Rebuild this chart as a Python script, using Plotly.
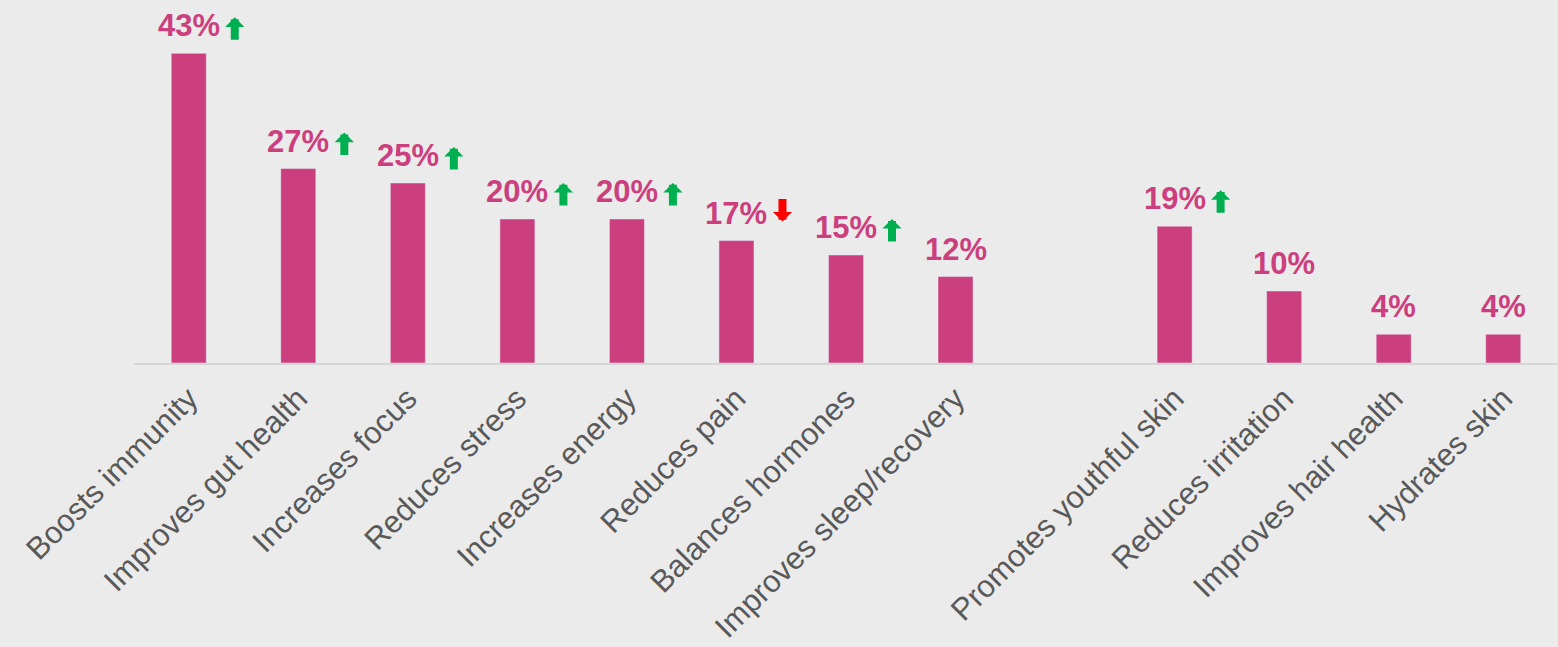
import plotly.graph_objects as go

categories = ["Boosts immunity", "Improves gut health", "Increases focus", "Reduces stress",
              "Increases energy", "Reduces pain", "Balances hormones", "Improves sleep/recovery",
              " ", "Promotes youthful skin", "Reduces irritation", "Improves hair health", "Hydrates skin"]
values = [43, 27, 25, 20, 20, 17, 15, 12, None, 19, 10, 4, 4]
trend = ["up", "up", "up", "up", "up", "down", "up", "", "", "up", "", "", ""]

PINK = "#CC3F7E"
GREEN = "#00B050"
RED = "#FF0000"
BG = "#EBEBEB"

fig = go.Figure()
fig.add_trace(go.Bar(x=categories, y=values, marker_color=PINK, width=0.32,
                     hoverinfo="skip"))

ann = []
for c, v, t in zip(categories, values, trend):
    if v is None:
        continue
    ann.append(dict(x=c, y=v, text=f"{v}%", showarrow=False, yanchor="bottom",
                    xanchor="center", yshift=8,
                    font=dict(family="Liberation Sans, Arial", size=31, color=PINK,
                              weight="bold")))
    if t == "up":
        ann.append(dict(x=c, y=v, text="", showarrow=True, arrowhead=1, arrowsize=0.4,
                        arrowwidth=8, arrowcolor=GREEN, ax=0, ay=24, standoff=0,
                        startstandoff=0, xshift=46, yshift=36))
    elif t == "down":
        ann.append(dict(x=c, y=v, text="", showarrow=True, arrowhead=1, arrowsize=0.4,
                        arrowwidth=8, arrowcolor=RED, ax=0, ay=-24, standoff=0,
                        startstandoff=0, xshift=46, yshift=19))

fig.update_layout(
    width=1558, height=647,
    margin=dict(l=134, r=0, t=0, b=284, autoexpand=False),
    paper_bgcolor=BG, plot_bgcolor=BG,
    showlegend=False,
    annotations=ann,
    xaxis=dict(type="category", categoryorder="array", categoryarray=categories,
               tickangle=-45, showgrid=False, showline=True, linecolor="#D6D6D6",
               linewidth=2, ticks="", automargin=False, ticklabelstandoff=3,
               tickfont=dict(family="Liberation Sans, Arial", size=31, color="#595959")),
    yaxis=dict(range=[0, 50.4], visible=False, showgrid=False, fixedrange=True),
    bargap=0.68,
)

fig.write_html("out.html")
